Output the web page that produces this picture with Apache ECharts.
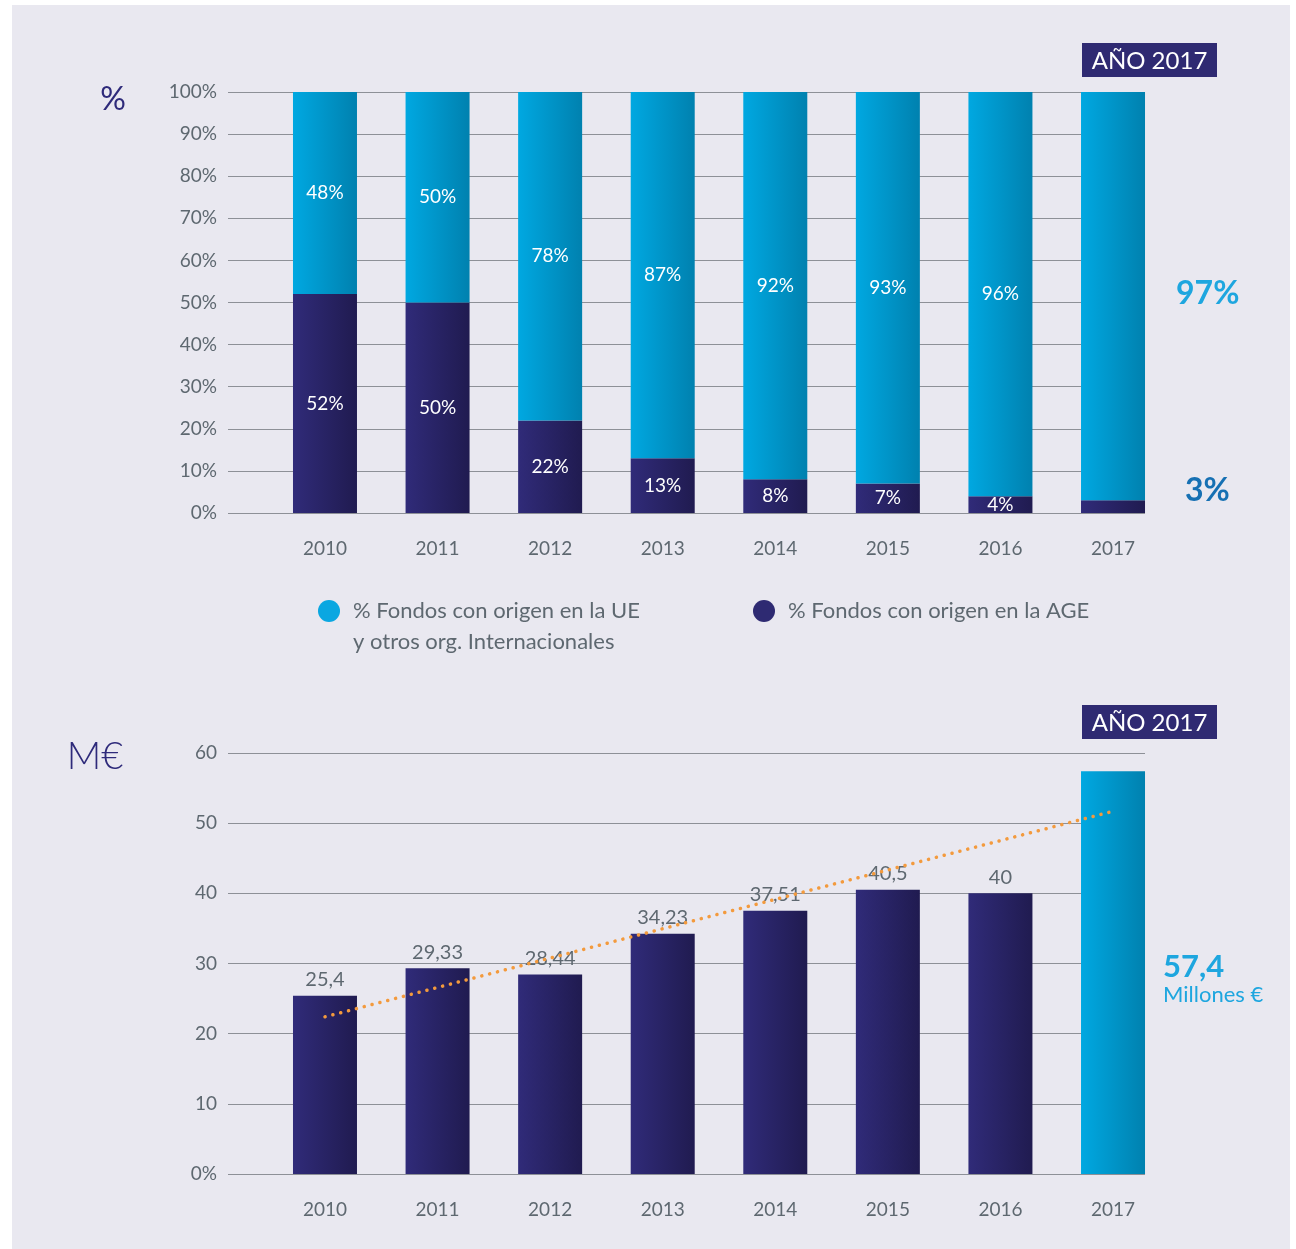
<!DOCTYPE html>
<html>
<head>
<meta charset="utf-8">
<script src="https://cdn.jsdelivr.net/npm/echarts@6/dist/echarts.min.js"></script>
<style>
  html, body { margin: 0; padding: 0; background: #fff; }
  #bg { position: absolute; left: 12px; top: 5px; width: 1278px; height: 1244px; background: #e9e8f0; }
  #main { position: absolute; left: 0; top: 0; width: 1296px; height: 1249px; }
</style>
</head>
<body>
<div id="bg"></div>
<div id="main"></div>
<script>
// datos
const years = ['2010', '2011', '2012', '2013', '2014', '2015', '2016', '2017'];
const pctUE = [48, 50, 78, 87, 92, 93, 96, 97];   // % UE y otros org. internacionales
const pctAGE = [52, 50, 22, 13, 8, 7, 4, 3];      // % AGE
const millones = [25.4, 29.33, 28.44, 34.23, 37.51, 40.5, 40, 57.4];
const tendencia = [22.4, '-', '-', '-', '-', '-', '-', 51.7];
const pctMax = 100, pctStep = 10;
const meurMax = 60, meurStep = 10;
const nameUE = 'UE', nameAGE = 'AGE';
const legendUE = ['% Fondos con origen en la UE', 'y otros org. Internacionales'];
const legendAGE = '% Fondos con origen en la AGE';
const boxText = 'AÑO 2017';

const gray = '#5e6870';
const font = 'Lato';

function grad(c1, c2) {
  return new echarts.graphic.LinearGradient(0, 0, 1, 0, [
    { offset: 0, color: c1 },
    { offset: 1, color: c2 }
  ]);
}
const lightBlue = grad('#00a8e1', '#0081af');
const navy = grad('#302b79', '#201b50');

const comma = v => String(v).replace('.', ',');
const last = years.length - 1;

const chart = echarts.init(document.getElementById('main'));

// grids 0/2 solo para las líneas (empiezan en x=228), grids 1/3 para las barras
const gridLines = { left: 228, right: 151 };
const gridBars = { left: 268.7, right: 126.7 };

const axisLbl = { color: gray, fontSize: 19, fontFamily: font };

const option = {
  backgroundColor: 'transparent',
  textStyle: { fontFamily: font },
  grid: [
    { ...gridLines, top: 92, bottom: 736 },
    { ...gridBars, top: 92, bottom: 736 },
    { ...gridLines, top: 753, bottom: 75 },
    { ...gridBars, top: 753, bottom: 75 }
  ],
  xAxis: [
    { gridIndex: 0, type: 'value', min: 0, max: 1, show: false },
    {
      gridIndex: 1, type: 'category', data: years,
      axisLine: { show: false }, axisTick: { show: false },
      axisLabel: { ...axisLbl, margin: 26 }
    },
    { gridIndex: 2, type: 'value', min: 0, max: 1, show: false },
    {
      gridIndex: 3, type: 'category', data: years,
      axisLine: { show: false }, axisTick: { show: false },
      axisLabel: { ...axisLbl, margin: 26 }
    }
  ],
  yAxis: [
    {
      gridIndex: 0, type: 'value', min: 0, max: pctMax, interval: pctStep,
      axisLine: { show: false }, axisTick: { show: false },
      axisLabel: { ...axisLbl, margin: 11, formatter: '{value}%' },
      splitLine: { lineStyle: { color: '#8d9097', width: 1.2 } }
    },
    { gridIndex: 1, type: 'value', min: 0, max: pctMax, show: false },
    {
      gridIndex: 2, type: 'value', min: 0, max: meurMax, interval: meurStep,
      axisLine: { show: false }, axisTick: { show: false },
      axisLabel: { ...axisLbl, margin: 11, formatter: v => (v === 0 ? '0%' : v) },
      splitLine: { lineStyle: { color: '#8d9097', width: 1.2 } }
    },
    { gridIndex: 3, type: 'value', min: 0, max: meurMax, show: false }
  ],
  legend: [
    {
      data: [{ name: nameUE, itemStyle: { color: '#0aa7e1' } }],
      left: 318, top: 600, padding: 0, icon: 'circle', itemWidth: 22, itemHeight: 22,
      selectedMode: false,
      formatter: () => legendUE[0],
      textStyle: { color: gray, fontSize: 22, padding: [0, 0, 0, 8], fontFamily: font }
    },
    {
      data: [{ name: nameAGE, itemStyle: { color: '#2e2a72' } }],
      left: 753, top: 600, padding: 0, icon: 'circle', itemWidth: 22, itemHeight: 22,
      selectedMode: false,
      formatter: () => legendAGE,
      textStyle: { color: gray, fontSize: 22, padding: [0, 0, 0, 8], fontFamily: font }
    }
  ],
  graphic: [
    {
      type: 'text', x: 353, y: 642,
      style: { text: legendUE[1], fontSize: 22, fontFamily: font, fill: gray, align: 'left', verticalAlign: 'middle' }
    },
    {
      type: 'text', x: 113, y: 100,
      style: { text: '%', fontSize: 32, fontFamily: font, fill: '#2e2a7a', align: 'center', verticalAlign: 'middle' }
    },
    {
      type: 'text', x: 95, y: 757,
      style: { text: 'M€', fontSize: 38, fontWeight: 300, fontFamily: font, fill: '#2e2a7a', align: 'center', verticalAlign: 'middle' }
    },
    {
      type: 'group',
      children: [
        { type: 'rect', shape: { x: 1082, y: 43, width: 135, height: 34 }, style: { fill: '#2f2a72' } },
        { type: 'text', x: 1149.5, y: 61, style: { text: boxText, fill: '#fff', fontSize: 24, fontFamily: font, align: 'center', verticalAlign: 'middle' } },
        { type: 'rect', shape: { x: 1082, y: 705, width: 135, height: 34 }, style: { fill: '#2f2a72' } },
        { type: 'text', x: 1149.5, y: 723, style: { text: boxText, fill: '#fff', fontSize: 24, fontFamily: font, align: 'center', verticalAlign: 'middle' } }
      ]
    }
  ],
  series: [
    {
      name: nameAGE, type: 'bar', stack: 'pct', xAxisIndex: 1, yAxisIndex: 1,
      barWidth: 64, itemStyle: { color: navy },
      label: { show: true, position: 'inside', color: '#fff', fontSize: 19, formatter: '{c}%', fontFamily: font },
      data: pctAGE.map((v, i) => i === last ? {
        value: v,
        label: { position: 'right', distance: 40, offset: [0, -16], fontSize: 32, fontWeight: 'bold', color: '#1670b3' }
      } : v)
    },
    {
      name: nameUE, type: 'bar', stack: 'pct', xAxisIndex: 1, yAxisIndex: 1,
      barWidth: 64, itemStyle: { color: lightBlue },
      label: { show: true, position: 'inside', color: '#fff', fontSize: 19, formatter: '{c}%', fontFamily: font },
      data: pctUE.map((v, i) => i === last ? {
        value: v,
        label: { position: 'right', distance: 31, offset: [0, -2], fontSize: 32, fontWeight: 'bold', color: '#1ea6df' }
      } : v)
    },
    {
      name: 'M€', type: 'bar', xAxisIndex: 3, yAxisIndex: 3,
      barWidth: 64, itemStyle: { color: navy },
      label: { show: true, position: 'top', distance: 6, color: gray, fontSize: 20, fontFamily: font, formatter: p => comma(p.value) },
      data: millones.map((v, i) => i === last ? {
        value: v,
        itemStyle: { color: lightBlue },
        label: {
          position: 'right', distance: 18, offset: [0, 7],
          formatter: p => '{a|' + comma(p.value) + '}\n{b|Millones €}',
          rich: {
            a: { fontSize: 31, fontWeight: 'bold', color: '#1ea6df', lineHeight: 30, fontFamily: font },
            b: { fontSize: 22, color: '#1ea6df', lineHeight: 26, fontFamily: font }
          }
        }
      } : v)
    },
    {
      name: 'tendencia', type: 'line', xAxisIndex: 3, yAxisIndex: 3,
      data: tendencia, connectNulls: true, symbol: 'none', z: 5, silent: true,
      lineStyle: { color: '#f39a3d', width: 3.5, type: [0.1, 8], cap: 'round' }
    }
  ]
};

chart.setOption(option);
</script>
</body>
</html>
